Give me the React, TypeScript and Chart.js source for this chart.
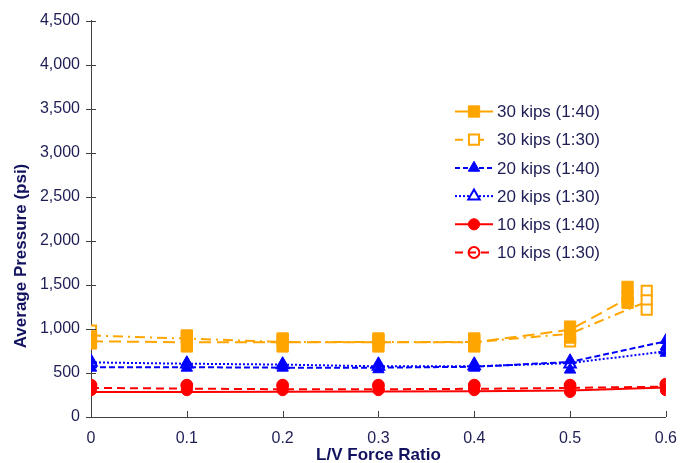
import React, { useEffect, useRef } from 'react';
import { Chart, registerables } from 'chart.js';

Chart.register(...registerables);

// ---------- data ----------
const xTickLabels = ['0', '0.1', '0.2', '0.3', '0.4', '0.5', '0.6'];
const yTickLabels = ['0', '500', '1,000', '1,500', '2,000', '2,500', '3,000', '3,500', '4,000', '4,500'];

const seriesNames = [
  '30 kips (1:40)',
  '30 kips (1:30)',
  '20 kips (1:40)',
  '20 kips (1:30)',
  '10 kips (1:40)',
  '10 kips (1:30)',
];

// L/V ratios per series
const lv30k140 = [0, 0.1, 0.2, 0.3, 0.4, 0.5, 0.56];
const lv30k130 = [0, 0.1, 0.2, 0.3, 0.4, 0.5, 0.58];
const lv20k140 = [0, 0.1, 0.2, 0.3, 0.4, 0.5, 0.6];
const lv20k130 = [0, 0.1, 0.2, 0.3, 0.4, 0.5, 0.6];
const lv10k140 = [0, 0.1, 0.2, 0.3, 0.4, 0.5, 0.6];
const lv10k130 = [0, 0.1, 0.2, 0.3, 0.4, 0.5, 0.6];

// average pressure (psi) – trend line values
const line30k140 = [860, 848, 848, 848, 848, 990, 1345];
const line30k130 = [925, 890, 852, 850, 850, 945, 1310];
const line20k140 = [565, 565, 560, 560, 570, 625, 860];
const line20k130 = [620, 605, 595, 575, 575, 612, 745];
const line10k140 = [285, 285, 288, 290, 292, 300, 335];
const line10k130 = [330, 322, 315, 315, 320, 330, 345];

// individual test readings (psi) shown as markers
const readings30k140 = [[914, 835], [925, 801], [891, 801], [891, 801], [891, 801], [1026, 902], [1477, 1365, 1297]];
const readings30k130 = [[981], [902], [868], [868], [868], [857], [1432, 1325, 1218]];
const readings20k140 = [[643, 558], [620, 558], [609, 558], [609, 540], [609, 558], [643, 536], [872, 801, 727]];
const readings20k130 = [[620], [600], [590], [575], [580], [600], [760]];
const readings10k140 = [[305, 350], [305, 350], [305, 350], [305, 350], [305, 350], [285, 350], [305, 360]];
const readings10k130 = [[361], [361], [361], [361], [361], [361], [372]];

const seriesX = [lv30k140, lv30k130, lv20k140, lv20k130, lv10k140, lv10k130];
const seriesLine = [line30k140, line30k130, line20k140, line20k130, line10k140, line10k130];
const seriesReadings = [readings30k140, readings30k130, readings20k140, readings20k130, readings10k140, readings10k130];

// ---------- styles ----------
const ORANGE = '#FFA500';
const BLUE = '#0000FF';
const RED = '#FF0000';
const TEXT = '#1e1e55';
const TITLE = '#12125e';
const AXIS = '#404040';
const FONT = "'Liberation Sans', Arial, sans-serif";

type SeriesStyle = {
  color: string;
  dash: number[];
  legendDash: number[];
  pointStyle: 'rect' | 'triangle' | 'circle';
  radius: number;
  filled: boolean;
  lineOverMarker?: boolean;
};

const seriesStyles: SeriesStyle[] = [
  { color: ORANGE, dash: [12, 6], legendDash: [], pointStyle: 'rect', radius: 8, filled: true },
  { color: ORANGE, dash: [10, 5, 2, 5], legendDash: [8, 13], pointStyle: 'rect', radius: 7.2, filled: false },
  { color: BLUE, dash: [6, 3], legendDash: [5, 3], pointStyle: 'triangle', radius: 6.6, filled: true },
  { color: BLUE, dash: [2, 2], legendDash: [2, 2], pointStyle: 'triangle', radius: 6.6, filled: false },
  { color: RED, dash: [], legendDash: [], pointStyle: 'circle', radius: 5.6, filled: true },
  { color: RED, dash: [8, 5], legendDash: [8, 5], pointStyle: 'circle', radius: 5.4, filled: false, lineOverMarker: true },
];

function drawMarker(ctx: CanvasRenderingContext2D, st: SeriesStyle, x: number, y: number) {
  const r = st.radius;
  ctx.save();
  ctx.setLineDash([]);
  ctx.beginPath();
  if (st.pointStyle === 'rect') {
    const s = r * Math.SQRT1_2;
    ctx.rect(x - s, y - s, 2 * s, 2 * s);
  } else if (st.pointStyle === 'triangle') {
    let a = 0;
    ctx.moveTo(x + Math.sin(a) * r, y - Math.cos(a) * r);
    a += (2 * Math.PI) / 3;
    ctx.lineTo(x + Math.sin(a) * r, y - Math.cos(a) * r);
    a += (2 * Math.PI) / 3;
    ctx.lineTo(x + Math.sin(a) * r, y - Math.cos(a) * r);
    ctx.closePath();
  } else {
    ctx.arc(x, y, r, 0, Math.PI * 2);
  }
  ctx.fillStyle = st.filled ? st.color : '#ffffff';
  ctx.fill();
  ctx.lineWidth = st.filled ? 1 : 2;
  ctx.strokeStyle = st.color;
  ctx.stroke();
  ctx.restore();
}

const decorPlugin = {
  id: 'decor',
  afterDraw(chart: any) {
    const ctx: CanvasRenderingContext2D = chart.ctx;
    const xs = chart.scales.x;
    const ys = chart.scales.y;
    const area = chart.chartArea;
    ctx.save();
    ctx.strokeStyle = AXIS;
    ctx.lineWidth = 1;
    // y ticks (cross the axis)
    ys.ticks.forEach((t: any) => {
      const py = Math.round(ys.getPixelForValue(t.value)) + 0.5;
      ctx.beginPath();
      ctx.moveTo(area.left - 5, py);
      ctx.lineTo(area.left + 5, py);
      ctx.stroke();
    });
    // x ticks (inside)
    xs.ticks.forEach((t: any) => {
      const px = Math.round(xs.getPixelForValue(t.value)) + 0.5;
      ctx.beginPath();
      ctx.moveTo(px, area.bottom - 6);
      ctx.lineTo(px, area.bottom);
      ctx.stroke();
    });
    // y axis title
    ctx.fillStyle = TITLE;
    ctx.font = `bold 17px ${FONT}`;
    ctx.textAlign = 'center';
    ctx.textBaseline = 'middle';
    ctx.translate(21, 256);
    ctx.rotate(-Math.PI / 2);
    ctx.fillText('Average Pressure (psi)', 0, 0);
    ctx.restore();

    // legend
    ctx.save();
    const x0 = 455;
    const x1 = 493;
    const xm = 474;
    const y0 = 111.5;
    const gap = 28.2;
    seriesNames.forEach((name, i) => {
      const st = seriesStyles[i];
      const y = y0 + i * gap;
      const drawLine = () => {
        ctx.save();
        ctx.strokeStyle = st.color;
        ctx.lineWidth = 2;
        ctx.setLineDash(st.legendDash);
        ctx.beginPath();
        ctx.moveTo(x0, y);
        ctx.lineTo(x1, y);
        ctx.stroke();
        ctx.restore();
      };
      if (st.lineOverMarker) {
        drawMarker(ctx, st, xm, y);
        drawLine();
      } else {
        drawLine();
        drawMarker(ctx, st, xm, y);
      }
      ctx.fillStyle = TEXT;
      ctx.font = `17px ${FONT}`;
      ctx.textAlign = 'left';
      ctx.textBaseline = 'middle';
      ctx.fillText(name, 497, y + 1);
    });
    ctx.restore();
  },
};

export default function App() {
  const ref = useRef<HTMLCanvasElement>(null);

  useEffect(() => {
    if (!ref.current) return;
    const datasets: any[] = [];
    seriesNames.forEach((name, i) => {
      const st = seriesStyles[i];
      const xsArr = seriesX[i];
      datasets.push({
        label: name,
        data: xsArr.map((x, k) => ({ x, y: seriesLine[i][k] })),
        showLine: true,
        borderColor: st.color,
        borderWidth: 2,
        borderDash: st.dash,
        pointRadius: 0,
        pointHoverRadius: 0,
        fill: false,
        tension: 0,
        order: 3,
      });
      datasets.push({
        label: name + ' readings',
        data: seriesReadings[i].flatMap((vals, k) => vals.map((v) => ({ x: xsArr[k], y: v }))),
        showLine: false,
        pointStyle: st.pointStyle,
        pointRadius: st.radius,
        pointHoverRadius: st.radius,
        backgroundColor: st.filled ? st.color : '#ffffff',
        borderColor: st.color,
        borderWidth: st.filled ? 1 : 2,
        order: st.filled ? 1 : 2,
      });
    });

    const chart = new Chart(ref.current, {
      type: 'scatter',
      data: { datasets },
      plugins: [decorPlugin],
      options: {
        responsive: false,
        animation: false,
        devicePixelRatio: 1,
        layout: { padding: { top: 16, right: 22, bottom: 0, left: 0 } },
        plugins: {
          legend: { display: false },
          tooltip: { enabled: false },
        },
        scales: {
          x: {
            type: 'linear',
            min: 0,
            max: 0.6,
            afterFit: (s: any) => {
              s.height = 46;
            },
            afterBuildTicks: (s: any) => {
              s.ticks = xTickLabels.map((_, k) => ({ value: k / 10 }));
            },
            ticks: {
              autoSkip: false,
              maxRotation: 0,
              padding: 12,
              color: TEXT,
              font: { family: FONT, size: 16 },
              callback: (_v: any, idx: number) => xTickLabels[idx],
            },
            grid: { display: false, drawTicks: false },
            border: { display: true, color: AXIS, width: 1 },
            title: {
              display: true,
              text: 'L/V Force Ratio',
              color: TITLE,
              font: { family: FONT, size: 17, weight: 'bold' },
              padding: { top: 0, bottom: -3 },
            },
          },
          y: {
            type: 'linear',
            min: 0,
            max: 4500,
            afterFit: (s: any) => {
              s.width = 91;
            },
            afterBuildTicks: (s: any) => {
              s.ticks = yTickLabels.map((_, k) => ({ value: k * 500 }));
            },
            ticks: {
              autoSkip: false,
              padding: 11,
              color: TEXT,
              font: { family: FONT, size: 16 },
              callback: (_v: any, idx: number) => yTickLabels[idx],
            },
            grid: { display: false, drawTicks: false },
            border: { display: true, color: AXIS, width: 1 },
          },
        },
      },
    });
    return () => chart.destroy();
  }, []);

  return (
    <div style={{ position: 'absolute', left: 0, top: 0, width: 689, height: 463, background: '#ffffff' }}>
      <canvas ref={ref} width={689} height={463} />
    </div>
  );
}
